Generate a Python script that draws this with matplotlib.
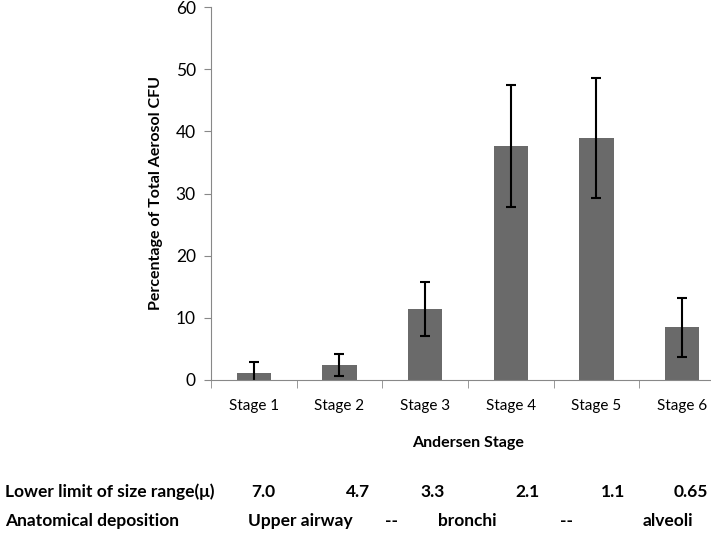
import numpy as np
import matplotlib
matplotlib.use("Agg")
import matplotlib.pyplot as plt

plt.rcParams["font.family"] = ["Lato", "DejaVu Sans"]

# Data
stages = ["Stage 1", "Stage 2", "Stage 3", "Stage 4", "Stage 5", "Stage 6"]
percent = [1.2, 2.4, 11.4, 37.7, 38.9, 8.5]
err_low = [1.6, 1.8, 4.3, 9.9, 9.6, 4.8]
err_high = [1.65, 1.8, 4.4, 9.8, 9.6, 4.7]
size_limits = ["7.0", "4.7", "3.3", "2.1", "1.1", "0.65"]
deposition = ["Upper airway", "--", "bronchi", "--", "alveoli"]

W, H = 711, 537
fig = plt.figure(figsize=(W / 100, H / 100), dpi=100)
ax = fig.add_axes([211 / W, 1 - 380 / H, (725 - 211) / W, (380 - 7) / H])

x = np.arange(len(stages))
ax.bar(x, percent, width=0.4, color="#6a6a6a", zorder=2)
ax.errorbar(x, percent, yerr=[err_low, err_high], fmt="none", ecolor="black",
            elinewidth=1.5, capsize=3.5, capthick=1.5, zorder=3)

ax.set_xlim(-0.5, len(stages) - 0.5)
ax.set_ylim(0, 60)
ax.set_yticks(range(0, 61, 10))
ax.set_xticks(x)
ax.set_xticklabels(stages, fontsize=11)
ax.set_xticks(np.arange(-0.5, len(stages)), minor=True)
ax.tick_params(axis="x", which="major", length=0, pad=14)
ax.tick_params(axis="x", which="minor", length=6, color="#888888")
ax.tick_params(axis="y", length=5, color="#888888", labelsize=12.5, pad=6)
for s in ["top", "right"]:
    ax.spines[s].set_visible(False)
for s in ["left", "bottom"]:
    ax.spines[s].set_color("#888888")
    ax.spines[s].set_zorder(4)

ax.set_ylabel("Percentage of Total Aerosol CFU", fontsize=11.5, fontweight="bold", labelpad=9)

fig.text(468 / W, 1 - 443 / H, "Andersen Stage", ha="center", va="center",
         fontsize=11.5, fontweight="bold")

# table-like rows below the chart
row1_y = 1 - 492 / H
row2_y = 1 - 521 / H
fig.text(5 / W, row1_y, "Lower limit of size range(μ)", ha="left", va="center",
         fontsize=12.5, fontweight="bold")
size_x = [275, 370, 445, 540, 625, 708]
for xx, s in zip(size_x, size_limits):
    fig.text(xx / W, row1_y, s, ha="right", va="center", fontsize=12.5, fontweight="bold")

fig.text(5 / W, row2_y, "Anatomical deposition", ha="left", va="center",
         fontsize=12.5, fontweight="bold")
dep_x = [248, 385, 438, 560, 643]
for xx, s in zip(dep_x, deposition):
    fig.text(xx / W, row2_y, s, ha="left", va="center", fontsize=12.5, fontweight="bold")

fig.savefig("out.png", dpi=100)
